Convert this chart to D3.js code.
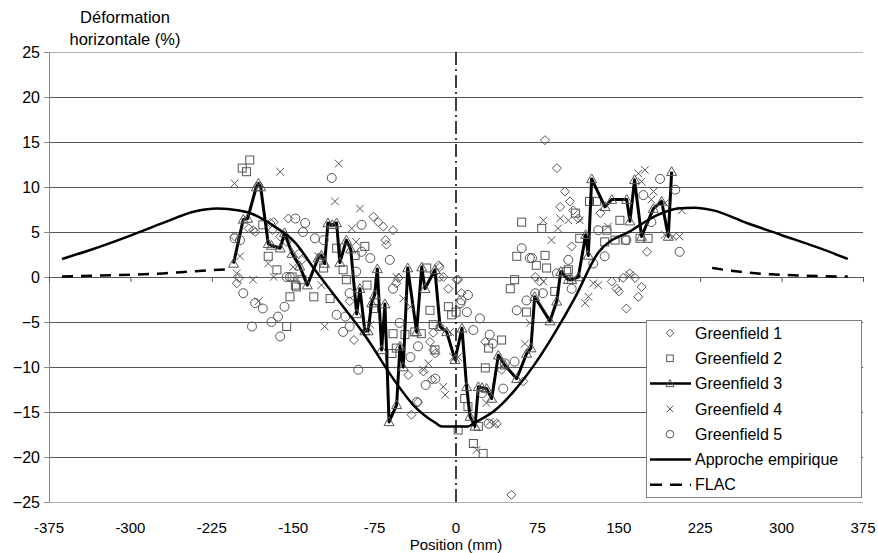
<!DOCTYPE html>
<html><head><meta charset="utf-8">
<script src="https://cdn.jsdelivr.net/npm/d3@7"></script>
<style>body{margin:0;background:#fff;} text{font-family:"Liberation Sans",Arial,sans-serif;fill:#000;}</style>
</head><body><svg id="c" width="878" height="553"></svg>
<script>
const yTicks = [25,20,15,10,5,0,-5,-10,-15,-20,-25];
const xTicks = [-375,-300,-225,-150,-75,0,75,150,225,300,375];
const seriesNames = ["Greenfield 1","Greenfield 2","Greenfield 3","Greenfield 4","Greenfield 5","Approche empirique","FLAC"];

const greenfield1 = [[-204,4.5],[-191,5.4],[-185,5.0],[-187,5.2],[-171,6.0],[-168,6.1],[-169,5.2],[-162,4.5],[-154.5,6.5],[-156,3.9],[-142,1.9],[-145,2.6],[-200,-0.1],[-202,-0.7],[-76,6.7],[-71.6,6.1],[-67,5.6],[-58,5.2],[-65,4.1],[-64,3.6],[-55,-0.7],[-53,-0.1],[-15,1.1],[-15,0],[0.6,-0.3],[5,-1.8],[-94,-7],[-98,-2.7],[-21,-6.2],[-15,-5.5],[-24,-7.2],[-21,-8.1],[-16,1.3],[-11.7,0],[-7,-1.3],[2,-0.3],[-44,-10.9],[-30,-10.5],[-22,-11.4],[-41,-15.3],[-35,-13.9],[-19,-8.5],[27,-7.2],[42,-10.3],[62,-11.6],[73,0],[77,-0.5],[37.5,-16.3],[51,-24.2],[82,15.2],[93,12.1],[100.4,9.5],[105,8.4],[96,7.8],[108,7.4],[112.7,6.5],[133,7.1],[106.6,3.4],[176,2.8],[143.5,-0.5],[148,-1.3],[154,-0.1],[160,0.4],[165,-0.1],[171,-1.1],[168,-2.2],[157,-3.5],[150,-1.6]];

const greenfield2 = [[-190,13.0],[-197,12.1],[-193,11.7],[-178,5.8],[-173,2.3],[-165,0.8],[-151,0],[-148,-0.9],[-153,-2.2],[-156,-5.5],[-131,-2.2],[-122,1.0],[-116,-2.4],[-110,3.2],[-104,0.8],[-142,-0.3],[-147,-1.1],[-93,2.4],[-101,-0.3],[-82,-0.9],[-84,3.4],[-76,-3.5],[-58,-6.3],[-47,-6.4],[-55,-7.9],[-59,-8.5],[-38,-6.1],[-32,-6.3],[-27,1.0],[-24,-3.7],[-21,-5.3],[-19.4,-8.1],[-7,-3.3],[-4,-4.2],[0,-3.9],[42,-7],[30,-7.9],[27,-10.1],[8,-13.5],[11,-14.4],[2,-17],[20.6,-16.6],[16,-18.5],[25,-19.6],[54,-0.3],[50,-1.3],[65,-3.9],[91,-1.6],[56,2.3],[74,1.3],[82,2.4],[83.5,1.0],[60.5,6.1],[79,5.4],[102,0.6],[123,8.4],[129.6,8.4],[110,7.1],[151,6.3],[114,4.3],[139,5.2],[137,3.9],[146.5,4.1],[156,4.1],[169.5,4.3],[177,4.3],[103.5,0.8]];

const greenfield3 = [[-205,1.5],[-196,6.4],[-192,6.5],[-184,10.0],[-182,10.4],[-180,10.0],[-173,3.7],[-170,3.5],[-162,3.2],[-158,4.9],[-151,2.6],[-144,1.2],[-137,-0.9],[-127,2.1],[-124,2.4],[-121,1.5],[-118,6.0],[-114,5.8],[-110,6.0],[-107,1.6],[-101,4.1],[-97,3.1],[-91.5,-4.1],[-88.5,-1.3],[-84,-6.0],[-81,-6.0],[-77.7,-2.9],[-75,-2.0],[-72.5,0.9],[-68.5,-8.1],[-65.5,-3.0],[-61.7,-16.1],[-54.7,-14.2],[-51.6,-7.7],[-48.6,-10.0],[-44.5,1.0],[-36.3,-6.1],[-31.6,1.1],[-28.6,-1.3],[-19.4,0.8],[-14.7,-5.5],[-8.6,-6.1],[-0.9,-9.2],[5.5,-5.7],[9.8,-12.2],[12.9,-15.5],[17.5,-16.6],[20.6,-12.2],[24,-12.3],[28.2,-12.4],[32.9,-13.5],[39,-8.7],[45,-9.8],[55.9,-11.3],[65.1,-8.5],[69,-7.9],[72.5,-2.2],[86.6,-4.9],[92.8,-2.7],[96.5,0.6],[103.5,-0.3],[106.6,-0.3],[112.7,0.0],[119.5,4.7],[121.9,2.4],[125,10.9],[137.3,7.8],[143.5,8.6],[157.3,8.6],[160.3,6.2],[164.5,10.8],[171,4.5],[181.8,7.6],[189.5,8.4],[195.6,4.5],[198.7,11.7]];

const greenfield4 = [[-204,10.4],[-162,11.7],[-108,12.6],[-111.5,8.4],[-199,2.3],[-202,0.4],[-187,-0.3],[-173,1.5],[-168,0],[-182,-2.7],[-150,1.1],[-124,-0.9],[-121,-5.5],[-127,2.3],[-88.5,7.6],[-96,5.4],[-92,3.9],[-79,-5.3],[-48.6,-2.4],[-55,0.0],[-42,-3.3],[-30,-10.3],[-25.5,-9.6],[-10,-13.1],[-11.7,-12.2],[-2.5,-8.9],[-5.5,-6.1],[2,-8.9],[28,-14],[31,-16.1],[36,-16.3],[19,-19.2],[63.5,-7.4],[68,-5.1],[80.5,-0.5],[174,11.9],[168,11.5],[171,10.6],[182,9.5],[180,8.6],[192.5,8.2],[200,4.5],[206,4.5],[192.5,4.7],[114,6.3],[103.5,6.3],[119,-2.9],[122,-2.2],[126.6,-0.7],[131,-0.9],[160,0.2],[140,5.6],[80.5,6.3],[96,6.5],[94,5.4],[88,4.1],[208,7.4]];

const greenfield5 = [[-114.5,11.0],[-148,6.5],[-139,6.0],[-141,5.0],[-130,4.3],[-122,4.1],[-204,4.3],[-199,4.1],[-156,0],[-153,0],[-158,-3.3],[-196,-1.8],[-178,-3.5],[-164,-4.4],[-170,-5.0],[-162,-6.6],[-188,-5.5],[-110,-4.2],[-185,-2.9],[-87,5.8],[-87,2.8],[-79,2.1],[-61,1.9],[-98,-1.8],[-104,-6.1],[-102,-4.4],[-98,-5.5],[-58,-1.3],[-52,-5.1],[-92,0.6],[-90,-10.3],[-42,-8.9],[-35,-7.7],[-19,-11.3],[-28,-12],[-36,-13.9],[5,-2.6],[70,2.1],[103.5,1.9],[11,-2],[4,-2.9],[10,-3.9],[22,-4.6],[16,-5.9],[31,-6.4],[34,-7.4],[56,-3.7],[65,-2.6],[73,-1.8],[80,-1.8],[45,-9.6],[43.5,-12.4],[54,-9.4],[24,-12.9],[30,-16.3],[60.5,3.2],[68,2.1],[93,0.4],[188,10.9],[202,9.7],[206,2.8],[172.6,9.1],[180,6.1],[131,5.2],[157,4.1],[137,2.3],[126.5,1.5],[106.6,-1.3]];

const empirique = [[-363,2.0],[-337,3.0],[-300,4.6],[-268,6.1],[-240,7.3],[-220,7.6],[-200,7.4],[-192,7.2],[-167,5.6],[-148,3.8],[-130,0.8],[-111,-2.2],[-81,-7],[-59,-11.1],[-38,-14.4],[-19,-16.2],[-13,-16.6],[11,-16.6],[17,-16.2],[36,-14.8],[54,-12.6],[73,-9.6],[91,-6.2],[110,-2.2],[131,2.7],[162,5.2],[186,6.9],[204,7.6],[220,7.7],[237,7.4],[268,6.0],[299,4.7],[335,3.2],[361,2.0]];

const flacLeft = [[-363,0.05],[-330,0.15],[-300,0.25],[-270,0.4],[-240,0.65],[-210,0.85]];
const flacRight = [[236,1.0],[260,0.6],[290,0.3],[320,0.15],[361,0.05]];

const svg = d3.select("#c");
const x = d3.scaleLinear().domain([-375,375]).range([49,863]);
const y = d3.scaleLinear().domain([-25,25]).range([502,52]);
const markerColor = "#555";

// gridlines
svg.append("g").selectAll("line").data(yTicks).join("line")
  .attr("x1",x(-375)).attr("x2",x(375))
  .attr("y1",d=>y(d)).attr("y2",d=>y(d))
  .attr("stroke",d=>(d===25||d===-25)?"#b0b0b0":"#555").attr("stroke-width",1)
  .attr("shape-rendering","crispEdges");

// y axis
const yAxis = d3.axisLeft(y).tickValues(yTicks).tickSize(5).tickFormat(d3.format("d"));
const gy = svg.append("g").attr("transform",`translate(${x(-375)},0)`).call(yAxis);
gy.select(".domain").attr("stroke","#888");
gy.selectAll(".tick line").attr("stroke","#888");
gy.selectAll("text").attr("font-size","16px").attr("x",-9).attr("font-family","Liberation Sans, Arial, sans-serif");

// x axis at y=0 with ticks, labels at bottom
const xAxis = d3.axisBottom(x).tickValues(xTicks).tickSize(5).tickFormat("");
const gx = svg.append("g").attr("transform",`translate(0,${y(0)})`).call(xAxis);
gx.select(".domain").remove();
gx.selectAll(".tick line").attr("stroke","#555");
svg.append("g").selectAll("text").data(xTicks).join("text")
  .attr("x",d=>x(d)).attr("y",533).attr("text-anchor","middle").attr("font-size","15px").text(d=>d);

// zero dash-dot line
svg.append("line").attr("x1",x(0)).attr("x2",x(0)).attr("y1",y(25)).attr("y2",y(-25))
  .attr("stroke","#000").attr("stroke-width",1.5).attr("stroke-dasharray","13,4,2,4");

// titles
svg.append("text").attr("x",125).attr("y",23).attr("text-anchor","middle").attr("font-size","16.5px").text("Déformation");
svg.append("text").attr("x",125).attr("y",45).attr("text-anchor","middle").attr("font-size","16.5px").text("horizontale (%)");
svg.append("text").attr("x",456).attr("y",550).attr("text-anchor","middle").attr("font-size","15px").text("Position (mm)");

// marker drawing
function drawMarker(g, type, cx, cy, r){
  if(type==="diamond"){
    g.append("path").attr("d",`M${cx},${cy-r}L${cx+r},${cy}L${cx},${cy+r}L${cx-r},${cy}Z`).attr("fill","none").attr("stroke",markerColor);
  } else if(type==="square"){
    g.append("rect").attr("x",cx-r+0.5).attr("y",cy-r+0.5).attr("width",2*r-1).attr("height",2*r-1).attr("fill","none").attr("stroke",markerColor);
  } else if(type==="circle"){
    g.append("circle").attr("cx",cx).attr("cy",cy).attr("r",r).attr("fill","none").attr("stroke",markerColor);
  } else if(type==="cross"){
    const s=r*0.85;
    g.append("path").attr("d",`M${cx-s},${cy-s}L${cx+s},${cy+s}M${cx-s},${cy+s}L${cx+s},${cy-s}`).attr("fill","none").attr("stroke",markerColor);
  } else if(type==="triangle"){
    g.append("path").attr("d",`M${cx},${cy-r}L${cx+r},${cy+r*0.75}L${cx-r},${cy+r*0.75}Z`).attr("fill","none").attr("stroke",markerColor);
  }
}

function scatter(data,type,r){
  const g = svg.append("g");
  data.forEach(d=>drawMarker(g,type,x(d[0]),y(d[1]),r));
}

scatter(greenfield1,"diamond",4.5);
scatter(greenfield2,"square",4.5);

const lineGen = d3.line().x(d=>x(d[0])).y(d=>y(d[1]));
svg.append("path").datum(greenfield3).attr("d",lineGen).attr("fill","none").attr("stroke","#000").attr("stroke-width",3).attr("stroke-linejoin","round");
scatter(greenfield3,"triangle",5);

scatter(greenfield4,"cross",4.5);
scatter(greenfield5,"circle",4.5);

const smooth = d3.line().x(d=>x(d[0])).y(d=>y(d[1])).curve(d3.curveMonotoneX);
svg.append("path").datum(empirique).attr("d",smooth).attr("fill","none").attr("stroke","#000").attr("stroke-width",2.5);
[flacLeft,flacRight].forEach(arr=>{
  svg.append("path").datum(arr).attr("d",smooth).attr("fill","none").attr("stroke","#000").attr("stroke-width",2.5).attr("stroke-dasharray","11,8");
});

// legend
const lg = svg.append("g");
lg.append("rect").attr("x",646.5).attr("y",320.5).attr("width",215).attr("height",177).attr("fill","#fff").attr("stroke","#808080");
const legTypes = ["diamond","square","triangleLine","cross","circle","line","dash"];
seriesNames.forEach((name,i)=>{
  const cy = 333 + i*25.3;
  const t = legTypes[i];
  if(t==="triangleLine"){
    lg.append("line").attr("x1",650).attr("x2",691).attr("y1",cy).attr("y2",cy).attr("stroke","#000").attr("stroke-width",2.5);
    drawMarker(lg,"triangle",670,cy,4);
  } else if(t==="line"){
    lg.append("line").attr("x1",650).attr("x2",691).attr("y1",cy).attr("y2",cy).attr("stroke","#000").attr("stroke-width",2.5);
  } else if(t==="dash"){
    lg.append("line").attr("x1",650).attr("x2",691).attr("y1",cy).attr("y2",cy).attr("stroke","#000").attr("stroke-width",2.5).attr("stroke-dasharray","12,8");
  } else {
    drawMarker(lg,t,670,cy,3.8);
  }
  lg.append("text").attr("x",695).attr("y",cy).attr("dy","0.35em").attr("font-size","16px").text(name);
});
</script></body></html>
